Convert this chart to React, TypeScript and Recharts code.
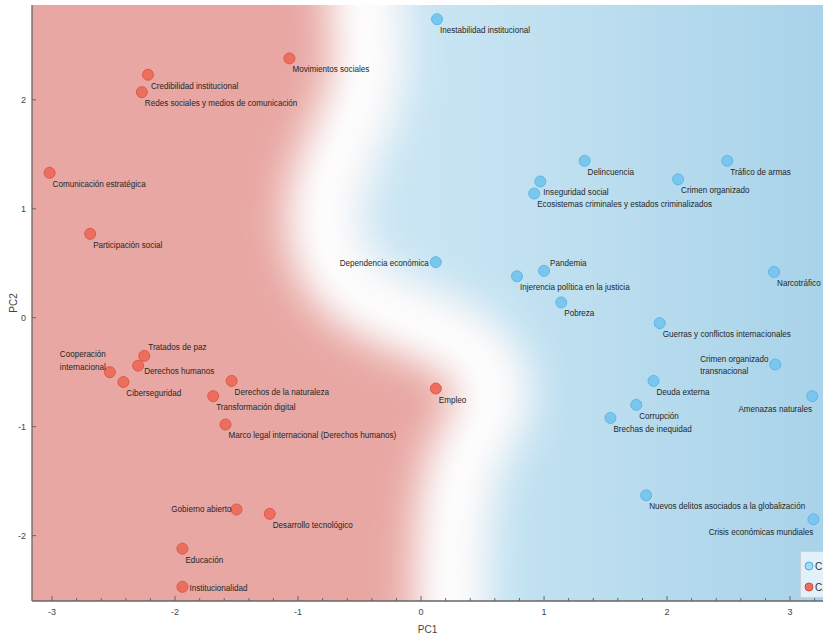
import {
  Area,
  ComposedChart,
  Legend,
  Line,
  ReferenceArea,
  Scatter,
  XAxis,
  YAxis,
} from "recharts"

/* ---------- data ---------- */
const X_DOMAIN: [number, number] = [-3.163, 3.268]
const Y_DOMAIN: [number, number] = [-2.6, 2.87]

// minor ticks every 0.2 on PC1, labels only on the integers
const X_TICKS = [
  -3, -2.8, -2.6, -2.4, -2.2, -2, -1.8, -1.6, -1.4, -1.2, -1, -0.8, -0.6, -0.4, -0.2, 0, 0.2, 0.4, 0.6, 0.8, 1,
  1.2, 1.4, 1.6, 1.8, 2, 2.2, 2.4, 2.6, 2.8, 3, 3.2,
]
const Y_TICKS = [-2, -1, 0, 1, 2]

const clusterRed = [
  { name: "Movimientos sociales", pc1: -1.07, pc2: 2.38 },
  { name: "Credibilidad institucional", pc1: -2.22, pc2: 2.23 },
  { name: "Redes sociales y medios de comunicación", pc1: -2.27, pc2: 2.07 },
  { name: "Comunicación estratégica", pc1: -3.02, pc2: 1.33 },
  { name: "Participación social", pc1: -2.69, pc2: 0.77 },
  { name: "Tratados de paz", pc1: -2.25, pc2: -0.35 },
  { name: "Derechos humanos", pc1: -2.3, pc2: -0.44 },
  { name: "Cooperación internacional", pc1: -2.53, pc2: -0.5 },
  { name: "Ciberseguridad", pc1: -2.42, pc2: -0.59 },
  { name: "Derechos de la naturaleza", pc1: -1.54, pc2: -0.58 },
  { name: "Transformación digital", pc1: -1.69, pc2: -0.72 },
  { name: "Marco legal internacional (Derechos humanos)", pc1: -1.59, pc2: -0.98 },
  { name: "Gobierno abierto", pc1: -1.5, pc2: -1.76 },
  { name: "Desarrollo tecnológico", pc1: -1.23, pc2: -1.8 },
  { name: "Educación", pc1: -1.94, pc2: -2.12 },
  { name: "Institucionalidad", pc1: -1.94, pc2: -2.47 },
  { name: "Empleo", pc1: 0.12, pc2: -0.65 },
]

const clusterBlue = [
  { name: "Inestabilidad institucional", pc1: 0.13, pc2: 2.74 },
  { name: "Delincuencia", pc1: 1.33, pc2: 1.44 },
  { name: "Tráfico de armas", pc1: 2.49, pc2: 1.44 },
  { name: "Inseguridad social", pc1: 0.97, pc2: 1.25 },
  { name: "Ecosistemas criminales y estados criminalizados", pc1: 0.92, pc2: 1.14 },
  { name: "Crimen organizado", pc1: 2.09, pc2: 1.27 },
  { name: "Dependencia económica", pc1: 0.12, pc2: 0.51 },
  { name: "Pandemia", pc1: 1.0, pc2: 0.43 },
  { name: "Injerencia política en la justicia", pc1: 0.78, pc2: 0.38 },
  { name: "Pobreza", pc1: 1.14, pc2: 0.14 },
  { name: "Narcotráfico", pc1: 2.87, pc2: 0.42 },
  { name: "Guerras y conflictos internacionales", pc1: 1.94, pc2: -0.05 },
  { name: "Crimen organizado transnacional", pc1: 2.88, pc2: -0.43 },
  { name: "Deuda externa", pc1: 1.89, pc2: -0.58 },
  { name: "Amenazas naturales", pc1: 3.18, pc2: -0.72 },
  { name: "Corrupción", pc1: 1.75, pc2: -0.8 },
  { name: "Brechas de inequidad", pc1: 1.54, pc2: -0.92 },
  { name: "Nuevos delitos asociados a la globalización", pc1: 1.83, pc2: -1.63 },
  { name: "Crisis económicas mundiales", pc1: 3.19, pc2: -1.85 },
]

// decision boundary between the two clusters, PC1 as a function of PC2
const boundary = [
  { pc2: 3.5, pc1: -0.45 },
  { pc2: 2.85, pc1: -0.47 },
  { pc2: 2.35, pc1: -0.4 },
  { pc2: 1.9, pc1: -0.5 },
  { pc2: 1.5, pc1: -0.68 },
  { pc2: 1.05, pc1: -0.82 },
  { pc2: 0.6, pc1: -0.78 },
  { pc2: 0.3, pc1: -0.62 },
  { pc2: 0.1, pc1: -0.35 },
  { pc2: -0.05, pc1: 0.0 },
  { pc2: -0.2, pc1: 0.3 },
  { pc2: -0.4, pc1: 0.52 },
  { pc2: -0.65, pc1: 0.62 },
  { pc2: -0.9, pc1: 0.56 },
  { pc2: -1.15, pc1: 0.42 },
  { pc2: -1.4, pc1: 0.32 },
  { pc2: -1.8, pc1: 0.26 },
  { pc2: -2.3, pc1: 0.24 },
  { pc2: -3.2, pc1: 0.24 },
]

const legendItems = [
  { label: "C1", fill: "#a6d9f3", stroke: "#4aaee2" },
  { label: "C2", fill: "#ec6e5f", stroke: "#c9503f" },
]

/* ---------- label placement ---------- */
type Place = { dx: number; dy: number; anchor?: "start" | "end"; wrap?: boolean }
const DEFAULT_PLACE: Place = { dx: 3, dy: 14 }
const labelPlace: Record<string, Place> = {
  "Dependencia económica": { dx: -7, dy: 4, anchor: "end" },
  Pandemia: { dx: 6, dy: -5 },
  "Tratados de paz": { dx: 4, dy: -6 },
  "Derechos humanos": { dx: 6, dy: 8 },
  "Gobierno abierto": { dx: -5, dy: 3, anchor: "end" },
  Institucionalidad: { dx: 7, dy: 4 },
  "Amenazas naturales": { dx: 0, dy: 16, anchor: "end" },
  "Crisis económicas mundiales": { dx: 0, dy: 16, anchor: "end" },
  "Cooperación internacional": { dx: -50, dy: -15, wrap: true },
  "Crimen organizado transnacional": { dx: -75, dy: -3, wrap: true },
}

const SANS = '"Liberation Sans", Arial, sans-serif'
// labels are set in a narrow face; squeeze the regular one horizontally
const NARROW_SCALE = 0.88

function splitLast(s: string) {
  const i = s.lastIndexOf(" ")
  return [s.slice(0, i), s.slice(i + 1)]
}

function makeDot(fill: string, stroke: string) {
  return (props: any) => {
    const { cx, cy, payload } = props
    const p = labelPlace[payload.name] ?? DEFAULT_PLACE
    const lines = p.wrap ? splitLast(payload.name) : [payload.name]
    const tx = cx + p.dx
    return (
      <g>
        <circle cx={cx} cy={cy} r={5.5} fill={fill} stroke={stroke} strokeWidth={1} />
        <g transform={`translate(${tx} 0) scale(${NARROW_SCALE} 1) translate(${-tx} 0)`}>
          <text x={tx} y={cy + p.dy} textAnchor={p.anchor ?? "start"} fontSize={9.2} fontFamily={SANS} fill="#262626">
            {lines.map((l, i) => (
              <tspan key={i} x={tx} dy={i ? 12.5 : 0}>
                {l}
              </tspan>
            ))}
          </text>
        </g>
      </g>
    )
  }
}

function XTick({ x, y, payload }: any) {
  const v = payload.value as number
  const major = Math.abs(v - Math.round(v)) < 1e-6
  return (
    <g>
      <line x1={x} x2={x} y1={y} y2={y - (major ? 5 : 3)} stroke="#666" />
      {major && (
        <text x={x} y={y + 14} textAnchor="middle" fontSize={9} fontFamily={SANS} fill="#444">
          {Math.round(v)}
        </text>
      )}
    </g>
  )
}

function YTick({ x, y, payload }: any) {
  return (
    <g>
      <line x1={x} x2={x + 4} y1={y} y2={y} stroke="#666" />
      <text x={x - 6} y={y + 3} textAnchor="end" fontSize={9} fontFamily={SANS} fill="#444">
        {payload.value}
      </text>
    </g>
  )
}

function ClusterLegend() {
  return (
    <div
      style={{
        width: 60,
        height: 47,
        boxSizing: "border-box",
        position: "relative",
        background: "rgba(236,246,251,0.85)",
        border: "1px solid #c8d2d8",
        fontFamily: SANS,
        fontSize: 10,
        color: "#333",
      }}
    >
      {legendItems.map((it, i) => (
        <div
          key={it.label}
          style={{ position: "absolute", left: 3, top: 8 + i * 21, height: 12, display: "flex", alignItems: "center" }}
        >
          <svg width={10} height={10}>
            <circle cx={5} cy={5} r={4} fill={it.fill} stroke={it.stroke} strokeWidth={1} />
          </svg>
          <span style={{ marginLeft: 1 }}>{it.label}</span>
        </div>
      ))}
    </div>
  )
}

// soft edges for the class regions
const regionCss = `
.soft-red .recharts-area-area { filter: url(#softRed); }
.soft-white .recharts-line-curve { filter: url(#softWhite); }
`

export default function App() {
  return (
    <div style={{ position: "fixed", left: 0, top: 0, width: 823, height: 637, overflow: "hidden", background: "#fff" }}>
      <style>{regionCss}</style>
      <ComposedChart width={823} height={637} layout="vertical" margin={{ top: 5, right: 0, bottom: 0, left: 0 }}>
        <defs>
          <linearGradient id="bgBlue" x1="0" y1="0" x2="1" y2="0">
            <stop offset="0%" stopColor="#e2f0f7" />
            <stop offset="60%" stopColor="#c3e2f1" />
            <stop offset="100%" stopColor="#a9d3ea" />
          </linearGradient>
          <filter id="softRed" filterUnits="userSpaceOnUse" x="-300" y="-300" width="1500" height="1300">
            <feGaussianBlur stdDeviation="24" />
          </filter>
          <filter id="softWhite" filterUnits="userSpaceOnUse" x="-300" y="-300" width="1500" height="1300">
            <feGaussianBlur stdDeviation="20" />
          </filter>
        </defs>
        <XAxis
          type="number"
          dataKey="pc1"
          domain={X_DOMAIN}
          allowDataOverflow
          ticks={X_TICKS}
          interval={0}
          tick={<XTick />}
          tickLine={false}
          tickSize={0}
          tickMargin={0}
          axisLine={{ stroke: "#666", strokeWidth: 1.3 }}
          height={36}
          label={{ value: "PC1", position: "insideBottom", offset: 4, fontSize: 10, fontFamily: SANS, fill: "#444" }}
        />
        <YAxis
          type="number"
          dataKey="pc2"
          domain={Y_DOMAIN}
          allowDataOverflow
          reversed
          ticks={Y_TICKS}
          interval={0}
          tick={<YTick />}
          tickLine={false}
          tickSize={0}
          tickMargin={0}
          axisLine={{ stroke: "#666", strokeWidth: 1.3 }}
          width={32}
          label={{
            value: "PC2",
            angle: -90,
            position: "insideLeft",
            offset: 13,
            fontSize: 10,
            fontFamily: SANS,
            fill: "#444",
            style: { textAnchor: "middle" },
          }}
        />
        <ReferenceArea
          x1={X_DOMAIN[0]}
          x2={X_DOMAIN[1]}
          y1={Y_DOMAIN[0]}
          y2={Y_DOMAIN[1]}
          fill="url(#bgBlue)"
          fillOpacity={1}
          stroke="none"
        />
        <Area
          className="soft-red"
          data={boundary}
          dataKey="pc1"
          type="basis"
          baseValue={-4.5}
          fill="#e8a7a3"
          fillOpacity={1}
          stroke="none"
          isAnimationActive={false}
        />
        <Line
          className="soft-white"
          data={boundary}
          dataKey="pc1"
          type="basis"
          stroke="#ffffff"
          strokeWidth={72}
          dot={false}
          isAnimationActive={false}
        />
        <Scatter data={clusterBlue} shape={makeDot("#79c7ef", "#5fb6e5")} isAnimationActive={false} />
        <Scatter data={clusterRed} shape={makeDot("#ec6e5f", "#dc5a4a")} isAnimationActive={false} />
        <Legend
          layout="vertical"
          align="center"
          verticalAlign="middle"
          wrapperStyle={{ left: 800, top: 551, width: 60 }}
          content={() => <ClusterLegend />}
        />
      </ComposedChart>
    </div>
  )
}
